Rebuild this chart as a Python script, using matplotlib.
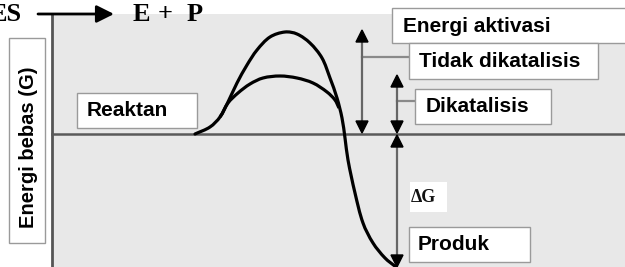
import numpy as np
import matplotlib
matplotlib.use("Agg")
import matplotlib.pyplot as plt
from matplotlib.path import Path
from matplotlib.patches import PathPatch, Rectangle

# ---- data (image pixel coordinates, y downward) ----
uncat_x = [195, 210, 220, 228, 237, 247, 257, 270, 285, 297, 310, 322, 330, 337, 342, 345, 348, 355, 363, 373, 385, 396]
uncat_y = [134, 127, 117, 102, 83, 65, 50, 37, 32, 34, 43, 58, 78, 98, 118, 138, 160, 193, 223, 243, 258, 267]
cat_x = [220, 228, 238, 250, 263, 280, 297, 313, 327, 335, 339]
cat_y = [117, 103, 93, 84, 78, 76, 78, 83, 92, 100, 108]

reactant_level = 134
product_level = 267
uncat_peak = 30
cat_peak = 75

labels = ["Energi aktivasi", "Tidak dikatalisis", "Dikatalisis", "Reaktan", "Produk"]

def tangents(pts):
    n = len(pts)
    d = np.linalg.norm(np.diff(pts, axis=0), axis=1)
    tang = np.zeros_like(pts)
    tang[0] = (pts[1] - pts[0]) / d[0]
    tang[-1] = (pts[-1] - pts[-2]) / d[-1]
    for i in range(1, n - 1):
        tang[i] = (pts[i + 1] - pts[i - 1]) / (d[i - 1] + d[i])
    return d, tang

def smooth_path(xs, ys, start_tangent=None):
    pts = np.column_stack([xs, ys]).astype(float)
    d, tang = tangents(pts)
    if start_tangent is not None:
        tang[0] = start_tangent
    verts = [pts[0]]
    codes = [Path.MOVETO]
    for i in range(len(pts) - 1):
        c1 = pts[i] + tang[i] * d[i] / 3.0
        c2 = pts[i + 1] - tang[i + 1] * d[i] / 3.0
        verts += [c1, c2, pts[i + 1]]
        codes += [Path.CURVE4] * 3
    return Path(verts, codes)

fig = plt.figure(figsize=(6.25, 2.67), dpi=100)
ax = fig.add_axes([0, 0, 1, 1])
ax.set_xlim(0, 625)
ax.set_ylim(267, 0)
ax.axis("off")

# panel background
ax.add_patch(Rectangle((52, 14), 580, 260, facecolor="#e8e8e8", edgecolor="none", zorder=0))
ax.plot([52, 52], [14, 267], color="#555555", lw=2.0, zorder=1)
ax.plot([52, 625], [reactant_level, reactant_level], color="#5a5a5a", lw=1.8, zorder=1)

# curves
upts = np.column_stack([uncat_x, uncat_y]).astype(float)
_, utang = tangents(upts)
ax.add_patch(PathPatch(smooth_path(uncat_x, uncat_y), facecolor="none", edgecolor="black", lw=2.3,
                       capstyle="round", zorder=3))
ax.add_patch(PathPatch(smooth_path(cat_x, cat_y, start_tangent=utang[2]), facecolor="none",
                       edgecolor="black", lw=2.3, capstyle="butt", zorder=3))

def varrow(x, y0, y1):
    ax.plot([x, x], [y0 + 5, y1 - 5], color="#666666", lw=1.6, zorder=4)
    ax.fill([x - 6, x + 6, x], [y0 + 12, y0 + 12, y0], color="black", zorder=5)
    ax.fill([x - 6, x + 6, x], [y1 - 12, y1 - 12, y1], color="black", zorder=5)

varrow(362, uncat_peak, reactant_level - 1)
varrow(397, cat_peak, reactant_level - 1)
varrow(397, reactant_level + 1, product_level)

# connectors
ax.plot([362, 412], [57, 57], color="#8a8a8a", lw=1.6, zorder=2)
ax.plot([397, 416], [101, 101], color="#8a8a8a", lw=1.6, zorder=2)

def box(x0, y0, x1, y1, text, tx, size=15):
    ax.add_patch(Rectangle((x0, y0), x1 - x0, y1 - y0, facecolor="white", edgecolor="#9a9a9a", lw=1.0, zorder=6))
    ax.text(tx, (y0 + y1) / 2 + 0.5, text, ha="left", va="center", fontsize=size,
            fontweight="bold", family="Liberation Sans", color="black", zorder=7)

box(392, 8, 640, 43, labels[0], 403)
box(409, 43, 598, 79, labels[1], 419)
box(415, 89, 551, 124, labels[2], 426)
box(77, 93, 197, 128, labels[3], 87)
box(409, 227, 530, 262, labels[4], 418)

# delta G
ax.add_patch(Rectangle((410, 182), 37, 30, facecolor="white", edgecolor="none", zorder=6))
ax.text(411, 198, "ΔG", ha="left", va="center", fontsize=13, fontweight="bold",
        family="Liberation Serif", color="#111111", zorder=7)

# y label box
ax.add_patch(Rectangle((9, 38), 36, 205, facecolor="white", edgecolor="#9a9a9a", lw=1.0, zorder=6))
ax.text(29, 147, "Energi bebas (G)", rotation=90, ha="center", va="center", fontsize=14.5,
        fontweight="bold", family="Liberation Sans", zorder=7)

# title reaction
serif = dict(va="baseline", fontsize=19, fontweight="bold", family="Liberation Serif")
ax.text(22, 21, "ES", ha="right", **serif)
ax.annotate("", xy=(114, 14), xytext=(38, 14),
            arrowprops=dict(arrowstyle="-|>,head_length=0.7,head_width=0.35", color="black", lw=2.0,
                            mutation_scale=15, shrinkA=0, shrinkB=0))
ax.text(133, 21, "E", ha="left", **serif)
ax.text(165, 21, "+", ha="center", **serif)
ax.text(187, 21, "P", ha="left", **serif)

fig.savefig("out.png", dpi=100)
